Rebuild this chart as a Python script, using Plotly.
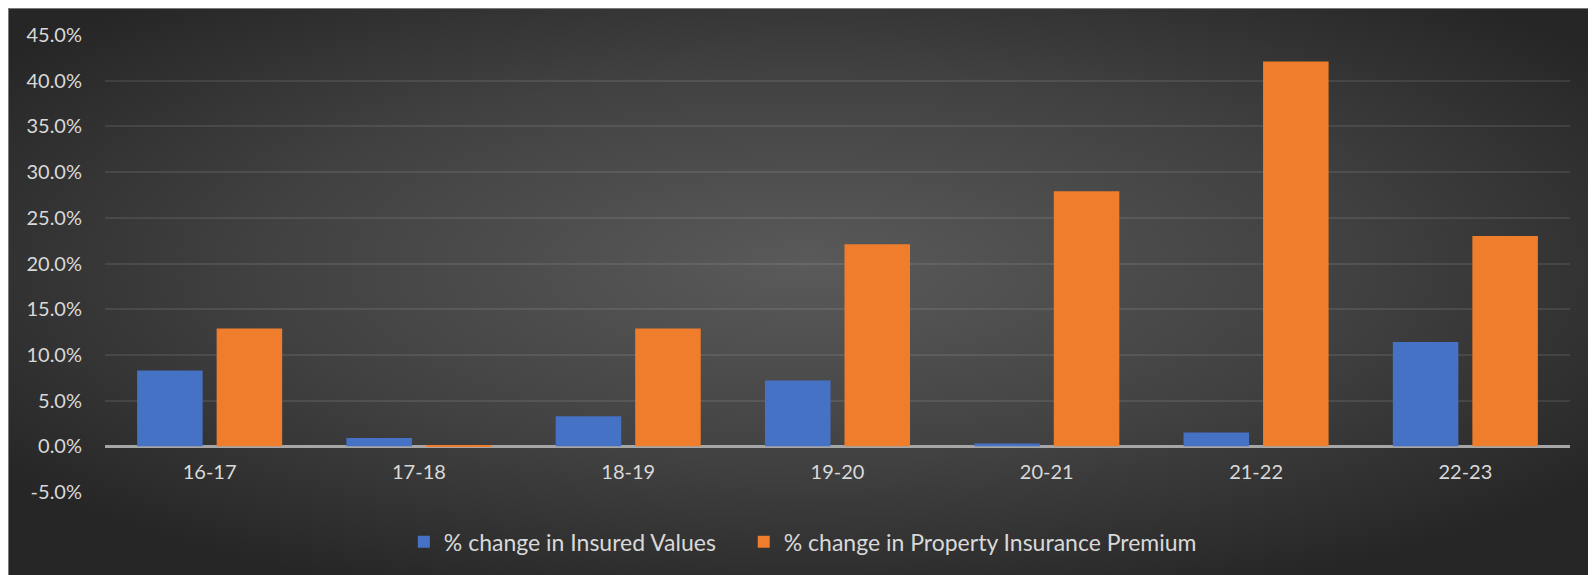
import base64
import plotly.graph_objects as go

categories = ["16-17", "17-18", "18-19", "19-20", "20-21", "21-22", "22-23"]
insured_values = [8.3, 0.9, 3.3, 7.2, 0.3, 1.5, 11.4]
premium = [12.9, 0.1, 12.9, 22.1, 27.9, 42.1, 23.0]
series_names = ["% change in Insured Values", "% change in Property Insurance Premium"]
y_ticks = [-5, 0, 5, 10, 15, 20, 25, 30, 35, 40, 45]
y_tick_text = [f"{v:.1f}%" for v in y_ticks]

# page body has an 8px margin; figure overflows the window to reach its edges
W, H = 1596, 575
ML, MT = 97, 27
pw, ph = 1465, 457
MR, MB = W - ML - pw, H - MT - ph

svg = (
    f'<svg xmlns="http://www.w3.org/2000/svg" width="{W}" height="{H}" preserveAspectRatio="none">'
    '<defs><radialGradient id="g" cx="0.5" cy="0.45" r="0.62">'
    '<stop offset="0" stop-color="#5a5a5a"/>'
    '<stop offset="0.55" stop-color="#414141"/>'
    '<stop offset="1" stop-color="#262626"/>'
    '</radialGradient></defs>'
    f'<rect width="{W}" height="{H}" fill="url(#g)"/>'
    f'<rect x="0.5" y="0.5" width="{W+10}" height="{H+10}" fill="none" stroke="#7a7a7a" stroke-width="1"/></svg>'
)
src = "data:image/svg+xml;base64," + base64.b64encode(svg.encode()).decode()

font_family = "Lato, 'Open Sans', sans-serif"
txt = "#d9d9d9"

fig = go.Figure()
fig.add_trace(go.Bar(x=categories, y=insured_values, name=series_names[0],
                     marker=dict(color="#4672c6", line=dict(width=0)), legend="legend"))
fig.add_trace(go.Bar(x=categories, y=premium, name=series_names[1],
                     marker=dict(color="#f07d2b", line=dict(width=0)), legend="legend2"))

fig.add_layout_image(dict(
    source=src, xref="paper", yref="paper",
    x=-ML / pw, y=1 + MT / ph,
    sizex=W / pw, sizey=H / ph,
    xanchor="left", yanchor="top", sizing="stretch", layer="below",
))

legend_style = dict(orientation="h", xanchor="left", y=-0.109, yanchor="middle",
                    font=dict(size=23, color=txt), bgcolor="rgba(0,0,0,0)",
                    itemsizing="constant", itemwidth=30)

fig.update_layout(
    width=W, height=H,
    margin=dict(l=ML, r=MR, t=MT, b=MB, pad=0),
    paper_bgcolor="#303030", plot_bgcolor="rgba(0,0,0,0)",
    barmode="group", bargap=0.24, bargroupgap=0.176,
    font=dict(family=font_family, size=20, color=txt),
    showlegend=True,
    legend=dict(x=0.204, **legend_style),
    legend2=dict(x=0.436, **legend_style),
    xaxis=dict(anchor="free", position=0.1, showline=False, showgrid=False,
               ticks="", tickfont=dict(size=20, color=txt), ticklabelstandoff=12,
               fixedrange=True),
    yaxis=dict(range=[-5, 45], tickmode="array", tickvals=y_ticks, ticktext=y_tick_text,
               showgrid=True, gridcolor="rgba(255,255,255,0.09)", gridwidth=1.5,
               zeroline=True, zerolinecolor="#a6a6a6", zerolinewidth=2.5,
               showline=False, ticks="", ticklabelstandoff=22,
               tickfont=dict(size=20, color=txt)),
)

fig.write_html("out.html")
